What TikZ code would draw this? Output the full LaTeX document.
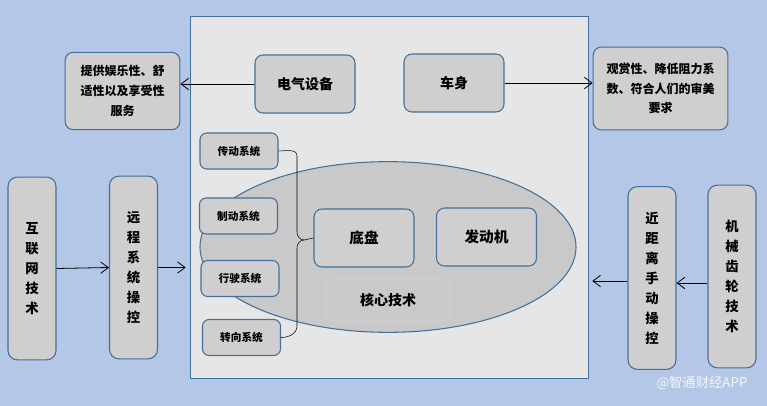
\documentclass[tikz,border=0pt]{standalone}
\usepackage{fontspec}
\newfontfamily\cjk{Noto Sans CJK SC}
\usetikzlibrary{arrows.meta,positioning,shapes.geometric,calc}

\definecolor{bgblue}{RGB}{180,199,231}
\definecolor{panelgray}{RGB}{231,230,230}
\definecolor{boxgray}{RGB}{208,206,206}
\definecolor{ovalgray}{RGB}{201,201,201}
\definecolor{edgeblue}{RGB}{65,113,156}

\begin{document}
\begin{tikzpicture}[
    x=0.75pt, y=-0.75pt,
    box/.style={draw=edgeblue, thick, rounded corners=6pt, fill=boxgray, align=center, inner sep=1pt, font=\cjk\bfseries\fontsize{10.5}{14}\selectfont},
    sysbox/.style={box, rounded corners=5pt, minimum width=58.5pt, minimum height=27pt, font=\cjk\bfseries\fontsize{8}{10}\selectfont},
    tallbox/.style={box, rounded corners=7pt, minimum width=36pt, minimum height=137pt, font=\cjk\bfseries\fontsize{10}{15}\selectfont},
    arrow/.style={-{Straight Barb[length=2mm,width=3mm]}, semithick}
  ]
    % background and panel
    \fill[bgblue] (0,0) rectangle (767,406);
    \node[draw=edgeblue, fill=panelgray, minimum width=298.5pt, minimum height=271.5pt, inner sep=0pt] (panel) at (389,197) {};

    % core oval
    \node[ellipse, draw=edgeblue, thick, fill=ovalgray, minimum width=282pt, minimum height=128pt] (oval) at (388,247) {};
    \node[draw=ovalgray!80!white, rounded corners=6pt, fill=ovalgray, minimum width=93pt, minimum height=31.5pt, font=\cjk\bfseries\fontsize{10.5}{14}\selectfont] (core) at (388,300) {核心技术};

    % top row
    \node[box, minimum width=86pt, minimum height=58pt, font=\cjk\bfseries\fontsize{9}{15}\selectfont] (serve) at (122.5,91) {提供娱乐性、舒\\适性以及享受性\\服务};
    \node[box, minimum width=75pt, minimum height=43.5pt] (elec) at (305,84) {电气设备};
    \node[box, minimum width=75pt, minimum height=43.5pt] (body) at (454,83) {车身};
    \node[box, minimum width=101pt, minimum height=62pt, font=\cjk\bfseries\fontsize{9}{14.5}\selectfont] (look) at (660.5,88.5) {观赏性、降低阻力系\\数、符合人们的审美\\要求};

    % chassis and engine
    \node[box, minimum width=75pt, minimum height=43.5pt, font=\cjk\bfseries\fontsize{11}{14}\selectfont] (chassis) at (364,238) {底盘};
    \node[box, minimum width=75pt, minimum height=43.5pt, font=\cjk\bfseries\fontsize{11}{14}\selectfont] (engine) at (486.5,237) {发动机};

    % sub systems
    \node[sysbox] (drive) at (239,151) {传动系统};
    \node[sysbox] (brake) at (238.5,216) {制动系统};
    \node[sysbox] (run) at (240,278.5) {行驶系统};
    \node[sysbox] (steer) at (241.5,337.5) {转向系统};

    % side columns
    \node[tallbox] (net) at (32,268.5) {互\\联\\网\\技\\术};
    \node[tallbox] (remote) at (133.5,267.5) {远\\程\\系\\统\\操\\控};
    \node[tallbox] (manual) at (652,278) {近\\距\\离\\手\\动\\操\\控};
    \node[tallbox] (gear) at (732,276.5) {机\\械\\齿\\轮\\技\\术};

    % watermark
    \node[text=white, opacity=0.85, font=\cjk\fontsize{10}{12}\selectfont] (mark) at (702,383) {@智通财经APP};

    % brace
    \coordinate (tip) at (304,240);
    \draw (drive.east) to[out=0, in=90] (297,156) -- (297,232) to[out=-90, in=180] (tip);
    \draw (steer.east) to[out=0, in=-90] (297,326) -- (297,248) to[out=90, in=180] (tip);
    \draw (tip) -- (chassis.west);

    % connectors
    \draw[arrow] (elec.west) -- (elec.west -| serve.east);
    \draw[arrow] (body.east) -- (body.east -| look.west);
    \draw[arrow] (net.east) -- (remote.west);
    \draw[arrow, shorten >=3pt] (remote.east) -- (remote.east -| panel.west);
    \draw[arrow] (gear.west |- 0,283) -- (manual.east |- 0,283);
    \draw[arrow, shorten >=3pt] (manual.west |- 0,281) -- (panel.east |- 0,281);
  \end{tikzpicture}
\end{document}
